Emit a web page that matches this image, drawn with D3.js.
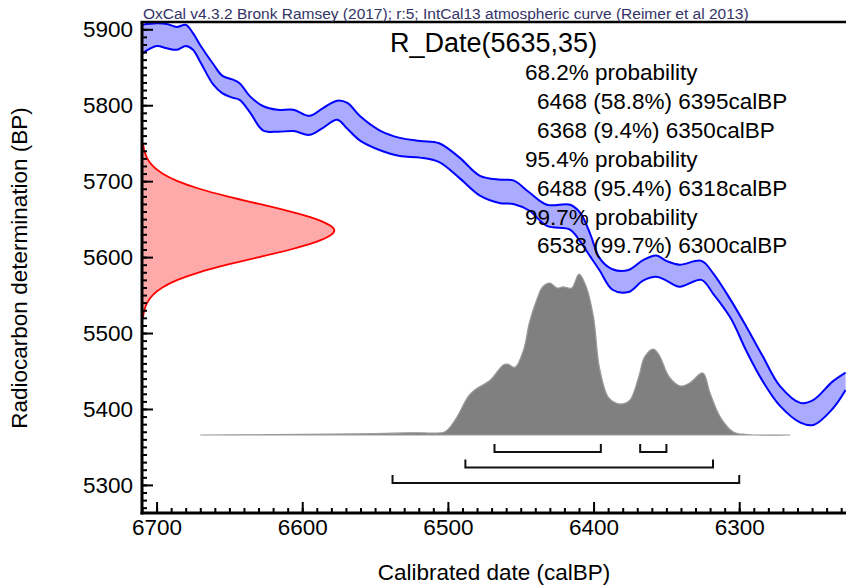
<!DOCTYPE html>
<html>
<head>
<meta charset="utf-8">
<script src="https://cdn.jsdelivr.net/npm/d3@7"></script>
<style>
  html, body { margin: 0; padding: 0; background: #fff; }
  svg { display: block; font-family: "Liberation Sans", Arial, sans-serif; }
</style>
</head>
<body>
<svg id="chart" width="846" height="587"></svg>
<script>
// ---- Calibration curve (IntCal13), band edges in BP ----
const curveCal = [6710, 6700, 6693, 6686, 6680, 6675, 6670, 6661, 6655, 6648, 6643, 6636, 6627, 6617, 6606, 6595, 6586, 6576, 6569, 6560, 6547, 6533, 6519, 6506, 6492, 6478, 6464, 6455, 6444, 6432, 6416, 6409, 6402, 6396, 6387, 6376, 6366, 6357, 6350, 6341, 6326, 6318, 6306, 6295, 6284, 6272, 6258, 6249, 6236, 6227];
const curveUpper = [5906, 5908, 5907, 5903, 5906, 5895, 5879, 5854, 5839, 5834, 5829, 5812, 5799, 5794, 5794, 5786, 5796, 5806, 5803, 5785, 5767, 5757, 5753, 5750, 5731, 5707, 5702, 5701, 5685, 5669, 5669, 5658, 5629, 5599, 5584, 5583, 5596, 5602, 5595, 5590, 5595, 5579, 5544, 5508, 5470, 5430, 5408, 5412, 5436, 5448];
const curveLower = [5868, 5878, 5875, 5873, 5878, 5873, 5857, 5827, 5816, 5810, 5807, 5791, 5767, 5765, 5766, 5761, 5770, 5781, 5769, 5753, 5741, 5733, 5731, 5725, 5704, 5681, 5671, 5670, 5661, 5641, 5636, 5620, 5600, 5583, 5557, 5554, 5569, 5574, 5569, 5561, 5570, 5552, 5520, 5476, 5437, 5404, 5382, 5379, 5400, 5425];

// ---- Radiocarbon date R_Date(5635,35): relative probability by BP ----
const rDateBP   = [5520, 5530, 5540, 5550, 5560, 5570, 5580, 5590, 5600, 5610, 5620, 5630, 5635, 5640, 5650, 5660, 5670, 5680, 5690, 5700, 5710, 5720, 5730, 5740, 5750];
const rDateProb = [0.0045, 0.011, 0.025, 0.052, 0.101, 0.178, 0.291, 0.438, 0.607, 0.775, 0.912, 0.990, 1.0, 0.990, 0.912, 0.775, 0.607, 0.438, 0.291, 0.178, 0.101, 0.052, 0.025, 0.011, 0.0045];

// ---- Calibrated distribution (relative probability, %) ----
const distCal  = [6670, 6620, 6580, 6550, 6530, 6520, 6510, 6502, 6496, 6492, 6486, 6480, 6471, 6462, 6459, 6454, 6448, 6444, 6439, 6435, 6430, 6425, 6421, 6415, 6410, 6405, 6400, 6396, 6390, 6385, 6380, 6375, 6369, 6365, 6359, 6355, 6348, 6340, 6334, 6325, 6320, 6313, 6304, 6295, 6265];
const distProb = [0, 0.2, 0.5, 0.8, 1.3, 1.4, 1.2, 2, 8, 14, 24, 29, 34, 43.5, 44, 42, 53, 70, 84, 92, 94.4, 91.3, 92, 91.3, 100, 92, 73, 42, 23.6, 20, 19.3, 21.7, 36, 48.4, 53.4, 49.7, 36, 30.4, 32.3, 38.5, 26, 11.2, 1.9, 0.3, 0];

// ---- Ranges (from, to) calBP ----
const range68 = [[6468, 6395], [6368, 6350]];
const range95 = [[6488, 6318]];
const range99 = [[6538, 6300]];

// ---- Texts / ticks ----
const headerText = "OxCal v4.3.2 Bronk Ramsey (2017); r:5; IntCal13 atmospheric curve (Reimer et al 2013)";
const titleText = "R_Date(5635,35)";
const summaryLines = [
  {t: "68.2% probability", indent: 0},
  {t: "6468 (58.8%) 6395calBP", indent: 1},
  {t: "6368 (9.4%) 6350calBP", indent: 1},
  {t: "95.4% probability", indent: 0},
  {t: "6488 (95.4%) 6318calBP", indent: 1},
  {t: "99.7% probability", indent: 0},
  {t: "6538 (99.7%) 6300calBP", indent: 1}
];
const xTicks = [6700, 6600, 6500, 6400, 6300];
const yTicks = [5300, 5400, 5500, 5600, 5700, 5800, 5900];
const xLabel = "Calibrated date (calBP)";
const yLabel = "Radiocarbon determination (BP)";

// ---- Layout ----
const L = 142, R = 846, T = 22, B = 513;
const svg = d3.select("#chart");

const x = d3.scaleLinear().domain([6710, 6226.7]).range([L, R]);
const y = d3.scaleLinear().domain([5263, 5909.6]).range([B, T]);
const rScale = d3.scaleLinear().domain([0, 1]).range([L, 335]);
const pScale = d3.scaleLinear().domain([0, 100]).range([435, 274]);

svg.append("defs").append("clipPath").attr("id", "plotclip")
  .append("rect").attr("x", L).attr("y", T).attr("width", R - L).attr("height", B - T);

const plot = svg.append("g").attr("clip-path", "url(#plotclip)");

// Calibrated distribution
const distData = distCal.map((c, i) => ({c, p: distProb[i]}));
plot.append("path")
  .datum(distData)
  .attr("d", d3.area().x(d => x(d.c)).y0(pScale(0)).y1(d => pScale(d.p)).curve(d3.curveCatmullRom.alpha(0.5)))
  .attr("fill", "#808080")
  .attr("stroke", "#9a9a9a")
  .attr("stroke-width", 1.2);

// Radiocarbon date distribution (red)
const rData = rDateBP.map((b, i) => ({b, p: rDateProb[i]}));
plot.append("path")
  .datum(rData)
  .attr("d", d3.area().y(d => y(d.b)).x0(rScale(0)).x1(d => rScale(d.p)).curve(d3.curveBasis))
  .attr("fill", "#ffaaaa");
plot.append("path")
  .datum(rData)
  .attr("d", d3.line().y(d => y(d.b)).x(d => rScale(d.p)).curve(d3.curveBasis))
  .attr("fill", "none")
  .attr("stroke", "#ff0000")
  .attr("stroke-width", 1.8);

// Calibration curve band
const cData = curveCal.map((c, i) => ({c, u: curveUpper[i], l: curveLower[i]}));
const cv = d3.curveCatmullRom.alpha(0.5);
plot.append("path")
  .datum(cData)
  .attr("d", d3.area().x(d => x(d.c)).y0(d => y(d.l)).y1(d => y(d.u)).curve(cv))
  .attr("fill", "#aaaaff");
["u", "l"].forEach(k => {
  plot.append("path")
    .datum(cData)
    .attr("d", d3.line().x(d => x(d.c)).y(d => y(d[k])).curve(cv))
    .attr("fill", "none")
    .attr("stroke", "#0000ff")
    .attr("stroke-width", 2);
});

// Range brackets
const bracketRows = [{r: range68, yy: 452}, {r: range95, yy: 467.5}, {r: range99, yy: 483}];
bracketRows.forEach(row => {
  row.r.forEach(([a, b]) => {
    svg.append("path")
      .attr("d", `M${x(a)},${row.yy - 8}V${row.yy}H${x(b)}V${row.yy - 8}`)
      .attr("fill", "none")
      .attr("stroke", "#111")
      .attr("stroke-width", 2);
  });
});

// Axes
const yAxis = d3.axisLeft(y).tickValues(yTicks).tickSizeInner(-11).tickSizeOuter(0).tickPadding(9).tickFormat(d3.format("d"));
const yMinor = d3.axisLeft(y).tickValues(d3.range(5270, 5910, 10)).tickSizeInner(-5).tickSizeOuter(0).tickFormat("");
const xAxis = d3.axisBottom(x).tickValues(xTicks).tickSizeInner(-11).tickSizeOuter(0).tickPadding(6).tickFormat(d3.format("d"));
const xMinor = d3.axisBottom(x).tickValues(d3.range(6710, 6220, -10)).tickSizeInner(-5).tickSizeOuter(0).tickFormat("");

function styleAxis(g) {
  g.select(".domain").remove();
  g.selectAll(".tick line").attr("stroke", "#000").attr("stroke-width", 2);
  g.selectAll(".tick text").attr("font-size", "22.5px").attr("fill", "#000").attr("font-family", "Liberation Sans, Arial, sans-serif");
}
svg.append("g").attr("transform", `translate(${L},0)`).call(yMinor).call(styleAxis);
svg.append("g").attr("transform", `translate(${L},0)`).call(yAxis).call(styleAxis)
  .selectAll(".tick text").attr("dy", "0.33em");
svg.append("g").attr("transform", `translate(0,${B})`).call(xMinor).call(styleAxis);
svg.append("g").attr("transform", `translate(0,${B})`).call(xAxis).call(styleAxis);

// Frame lines
svg.append("line").attr("x1", L).attr("x2", L).attr("y1", T).attr("y2", B + 1.5).attr("stroke", "#000").attr("stroke-width", 3);
svg.append("line").attr("x1", L - 1.5).attr("x2", R).attr("y1", B).attr("y2", B).attr("stroke", "#000").attr("stroke-width", 3);
svg.append("line").attr("x1", L - 1.5).attr("x2", R).attr("y1", T).attr("y2", T).attr("stroke", "#000").attr("stroke-width", 2.5);

// Header
svg.append("text").attr("x", 143).attr("y", 19).attr("font-size", "15.5px").attr("fill", "#333366").text(headerText);

// Title & summary
svg.append("text").attr("x", 390).attr("y", 52).attr("font-size", "27px").attr("fill", "#000").text(titleText);
summaryLines.forEach((ln, i) => {
  svg.append("text")
    .attr("x", ln.indent ? 537 : 525)
    .attr("y", 80 + i * 28.9)
    .attr("font-size", "22.5px")
    .attr("fill", "#000")
    .text(ln.t);
});

// Axis labels
svg.append("text").attr("x", 494).attr("y", 580).attr("text-anchor", "middle").attr("font-size", "22.5px").attr("fill", "#000").text(xLabel);
svg.append("text").attr("transform", "translate(27,268) rotate(-90)").attr("text-anchor", "middle").attr("font-size", "22.5px").attr("fill", "#000").text(yLabel);
</script>
</body>
</html>
